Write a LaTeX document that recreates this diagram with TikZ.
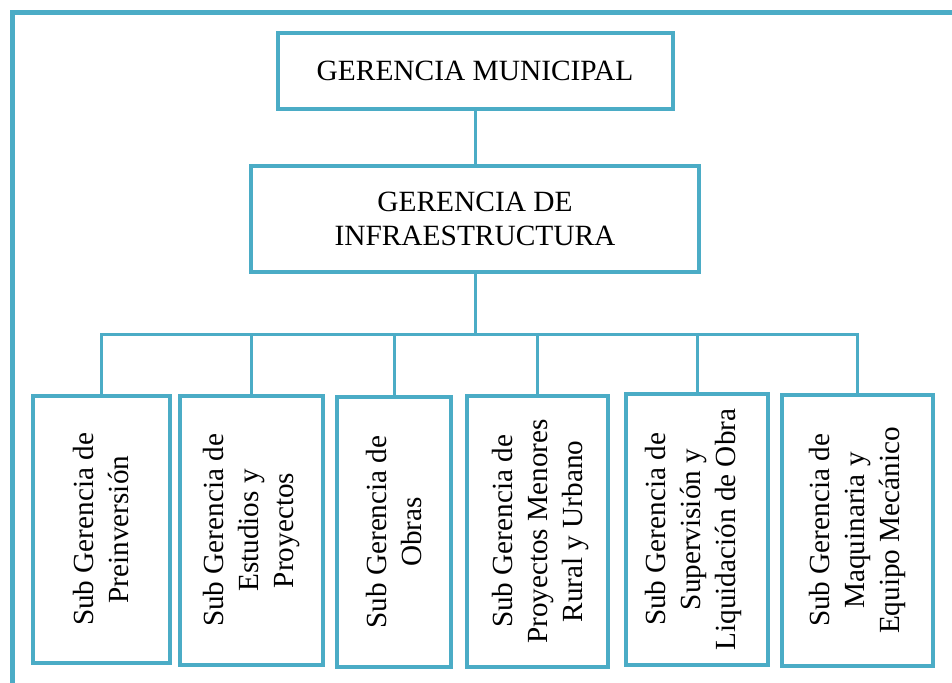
\documentclass[tikz,border=0pt]{standalone}
\usepackage{fontspec}
\setmainfont{Liberation Serif}
\definecolor{aqua}{HTML}{4BACC6}
\begin{document}
\begin{tikzpicture}[x=1pt,y=-1pt,
  box/.style={draw=aqua,line width=4pt,inner sep=0pt,font=\fontsize{29.4}{34}\selectfont,align=center},
  vbox/.style={draw=aqua,line width=4pt,inner sep=0pt},
  vtext/.style={rotate=90,font=\fontsize{29.2}{35}\selectfont,align=center,inner sep=0pt},
  conn/.style={draw=aqua,line width=3pt}]
\useasboundingbox (0,0) rectangle (952,682);
\clip (0,0) rectangle (952,682);
\fill[white] (0,0) rectangle (952,682);
\draw[aqua,line width=5pt] (12,13) rectangle (980,720);
% top boxes
\node[box,minimum width=395pt,minimum height=76pt] (gm) at (475,71) {GERENCIA MUNICIPAL};
\node[box,minimum width=448pt,minimum height=106pt] (gi) at (475,219) {GERENCIA DE\\INFRAESTRUCTURA};
% sub boxes
\node[vbox,minimum width=137pt,minimum height=267pt] (s1) at (101.5,529.5) {};
\node[vbox,minimum width=143pt,minimum height=269pt] (s2) at (251.5,530.5) {};
\node[vbox,minimum width=114pt,minimum height=270pt] (s3) at (394,532) {};
\node[vbox,minimum width=141pt,minimum height=271pt] (s4) at (537.5,531.5) {};
\node[vbox,minimum width=142pt,minimum height=271pt] (s5) at (697,529.5) {};
\node[vbox,minimum width=151pt,minimum height=271pt] (s6) at (857.5,530.5) {};
\node[vtext] (t1) at (s1.center) {Sub Gerencia de\\Preinversión};
\node[vtext] (t2) at (s2.center) {Sub Gerencia de\\Estudios y\\Proyectos};
\node[vtext] (t3) at (s3.center) {Sub Gerencia de\\Obras};
\node[vtext] (t4) at ([xshift=3pt]s4.center) {Sub Gerencia de\\Proyectos Menores\\Rural y Urbano};
\node[vtext] (t5) at ([xshift=-4pt]s5.center) {Sub Gerencia de\\Supervisión y\\Liquidación de Obra};
\node[vtext] (t6) at (s6.center) {Sub Gerencia de\\Maquinaria y\\Equipo Mecánico};
% connectors
\draw[conn] (gm.south) -- (gi.north);
\draw[conn] (gi.south) -- ++(0,60) coordinate (bus);
\foreach \s in {s1,s2,s3,s4,s5,s6}{
  \draw[conn] (bus) -| (\s.north);
}
\end{tikzpicture}
\end{document}
